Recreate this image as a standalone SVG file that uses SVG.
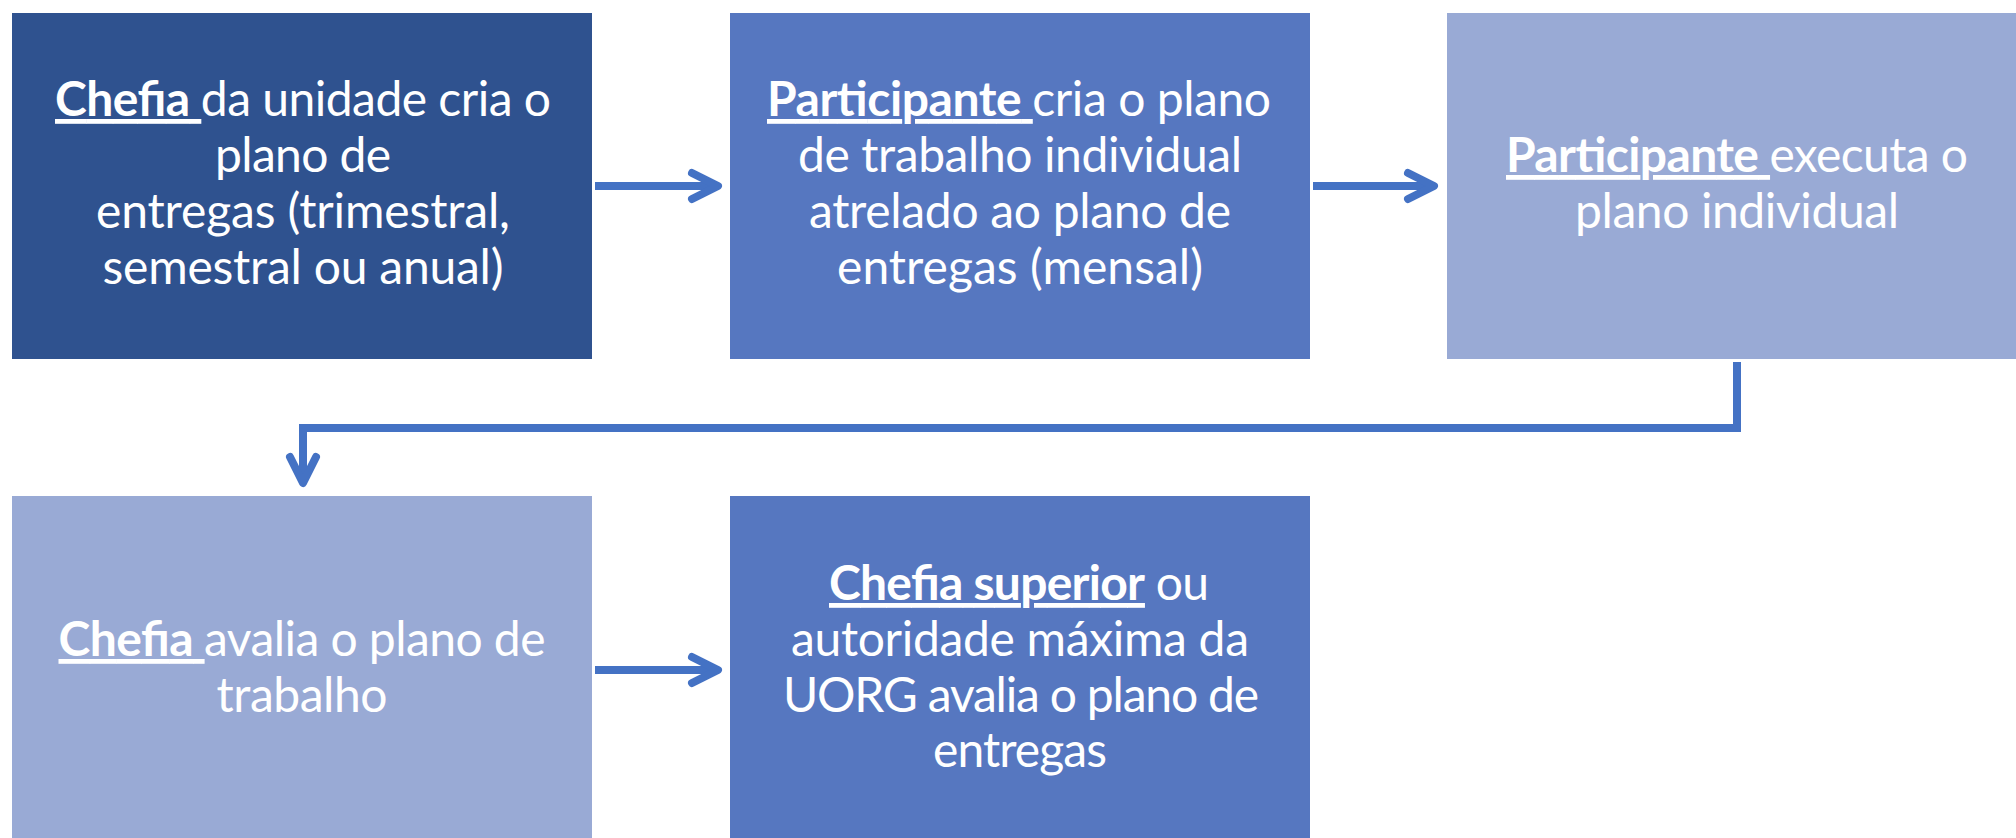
<svg xmlns="http://www.w3.org/2000/svg" width="2016" height="838" viewBox="0 0 2016 838">
<defs>
<style>
.t{font-family:Lato,"Open Sans","Liberation Sans",sans-serif;font-size:48px;fill:#ffffff;text-anchor:middle}
.b{font-weight:bold;text-decoration:underline}
.c{fill:none;stroke:#4472C4;stroke-width:8;stroke-linejoin:miter}
.dark{fill:#2F528F}
.mid{fill:#5677C0}
.light{fill:#99AAD5}
</style>
<marker id="ah" markerUnits="userSpaceOnUse" orient="auto" refX="0" refY="0" markerWidth="1" markerHeight="1" overflow="visible">
<path d="M-26,-13 L0,0 L-26,13" fill="none" stroke="#4472C4" stroke-width="8" stroke-linecap="round" stroke-linejoin="round"/>
</marker>
</defs>
<rect width="2016" height="838" fill="#ffffff"/>
<g id="n1">
<rect class="dark" x="12" y="13" width="580" height="346"/>
<text class="t" x="303" y="116" textLength="496"><tspan class="b">Chefia </tspan>da unidade cria o</text>
<text class="t" x="303" y="172" textLength="176">plano de</text>
<text class="t" x="303" y="228" textLength="414">entregas (trimestral,</text>
<text class="t" x="303" y="284" textLength="401">semestral ou anual)</text>
</g>
<g id="n2">
<rect class="mid" x="730" y="13" width="580" height="346"/>
<text class="t" x="1019" y="116" textLength="504"><tspan class="b">Participante </tspan>cria o plano</text>
<text class="t" x="1020" y="172" textLength="444">de trabalho individual</text>
<text class="t" x="1020" y="228" textLength="422">atrelado ao plano de</text>
<text class="t" x="1020" y="284" textLength="366">entregas (mensal)</text>
</g>
<g id="n3">
<rect class="light" x="1447" y="13" width="580" height="346"/>
<text class="t" x="1737" y="172" textLength="462"><tspan class="b">Participante </tspan>executa o</text>
<text class="t" x="1737" y="228" textLength="324">plano individual</text>
</g>
<g id="n4">
<rect class="light" x="12" y="496" width="580" height="346"/>
<text class="t" x="302" y="656" textLength="487"><tspan class="b">Chefia </tspan>avalia o plano de</text>
<text class="t" x="302" y="712" textLength="171">trabalho</text>
</g>
<g id="n5">
<rect class="mid" x="730" y="496" width="580" height="346"/>
<text class="t" x="1019" y="600" textLength="380"><tspan class="b">Chefia superior</tspan> ou</text>
<text class="t" x="1020" y="656" textLength="458">autoridade máxima da</text>
<text class="t" x="1021" y="712" textLength="476">UORG avalia o plano de</text>
<text class="t" x="1020" y="767" textLength="174">entregas</text>
</g>
<g id="connectors">
<path class="c" d="M595,186 H718" marker-end="url(#ah)"/>
<path class="c" d="M1313,186 H1434" marker-end="url(#ah)"/>
<path class="c" d="M1737,362 V428 H303 V483" marker-end="url(#ah)"/>
<path class="c" d="M595,670 H718" marker-end="url(#ah)"/>
</g>
</svg>
